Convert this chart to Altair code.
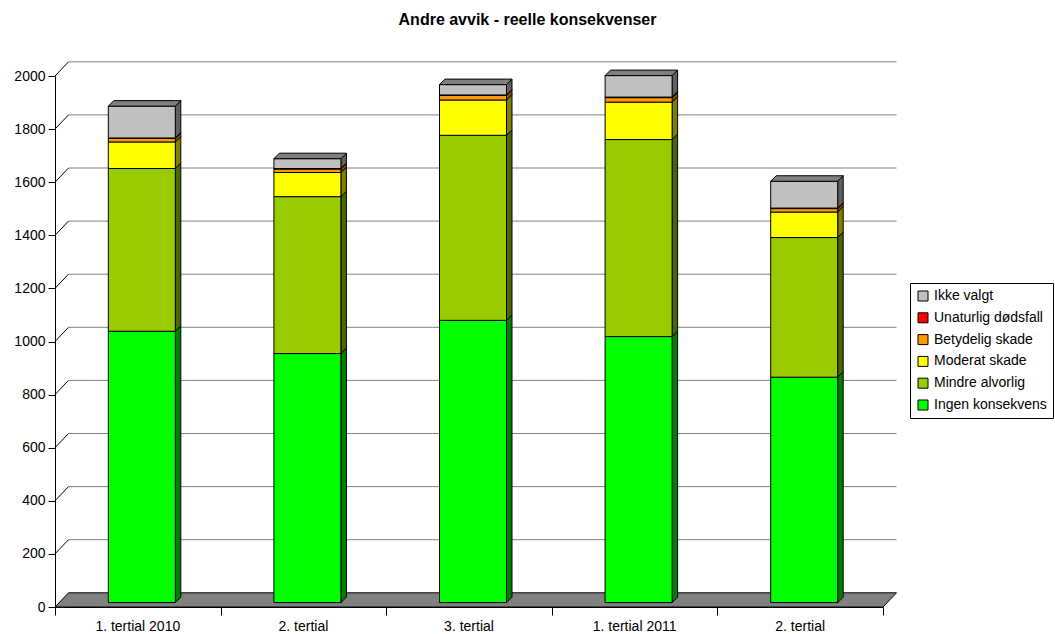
import altair as alt
import pandas as pd

# ---- data -----------------------------------------------------------------
categories = ["1. tertial 2010", "2. tertial", "3. tertial", "1. tertial 2011", "2. tertial"]
ingen_konsekvens = [1022, 938, 1063, 1002, 849]
mindre_alvorlig = [613, 591, 697, 742, 526]
moderat_skade = [100, 91, 133, 141, 96]
betydelig_skade = [13, 13, 17, 17, 13]
unaturlig_dodsfall = [2, 2, 2, 2, 2]
ikke_valgt = [120, 37, 39, 81, 101]

series_names = ["Ingen konsekvens", "Mindre alvorlig", "Moderat skade",
                "Betydelig skade", "Unaturlig dødsfall", "Ikke valgt"]
series_values = [ingen_konsekvens, mindre_alvorlig, moderat_skade,
                 betydelig_skade, unaturlig_dodsfall, ikke_valgt]
face_colors = ["#00FF00", "#99CC00", "#FFFF00", "#FF9900", "#FF0000", "#C0C0C0"]
side_colors = ["#008000", "#4C6600", "#808000", "#804C00", "#800000", "#606060"]
top_color = "#808080"
y_ticks = list(range(0, 2001, 200))
title_text = "Andre avvik - reelle konsekvenser"

# ---- geometry (plot size and pseudo-3D depth, in pixels) -------------------
W, H = 828, 531
N = len(categories)
YMAX = 2000
px_x = N / W          # data units per pixel, x
px_y = YMAX / H       # data units per pixel, y

WALL_DX, WALL_DY = 13.5 * px_x, 14.2 * px_y     # floor / back wall depth
BAR_SX, BAR_SY = 4.0 * px_x, 4.4 * px_y         # bar front face depth
BAR_W = 67 * px_x
BAR_DX, BAR_DY = 5.5 * px_x, 5.5 * px_y         # bar depth

FONT = "Liberation Sans"

# ---- tables ---------------------------------------------------------------
front_rows, side_rows, top_rows, label_rows = [], [], [], []
for i, cat in enumerate(categories):
    xl = i + 0.5 - BAR_W / 2 + BAR_SX
    xr = xl + BAR_W
    cum = 0
    for s, name in enumerate(series_names):
        v = series_values[s][i]
        y0, y1 = BAR_SY + cum, BAR_SY + cum + v
        front_rows.append(dict(series=name, xl=xl, xr=xr, y0=y0, y1=y1))
        key = f"{i}-{s}"
        side_rows.append(dict(key=key, c=side_colors[s], x=xr, lo=y0, hi=y1))
        side_rows.append(dict(key=key, c=side_colors[s], x=xr + BAR_DX,
                              lo=y0 + BAR_DY, hi=y1 + BAR_DY))
        cum += v
    t = BAR_SY + cum
    for x, lo, hi in [(xl, t, t), (xl + BAR_DX, t, t + BAR_DY),
                      (xr, t, t + BAR_DY), (xr + BAR_DX, t + BAR_DY, t + BAR_DY)]:
        top_rows.append(dict(key=str(i), x=x, lo=lo, hi=hi))
    label_rows.append(dict(cat=cat, x=i + 0.5))

front = pd.DataFrame(front_rows)
sides = pd.DataFrame(side_rows)
tops = pd.DataFrame(top_rows)
labels = pd.DataFrame(label_rows)

floor = pd.DataFrame(dict(x=[0, WALL_DX, N, N + WALL_DX],
                          lo=[0, 0, 0, WALL_DY],
                          hi=[0, WALL_DY, WALL_DY, WALL_DY]))
grid = pd.DataFrame(dict(v=y_ticks[1:]))
grid["yb"] = grid["v"] + WALL_DY
grid["x0"] = WALL_DX
grid["x1"] = N + WALL_DX
grid["xa"] = 0.0

# ---- scales / axes --------------------------------------------------------
xs = alt.Scale(domain=[0, N], nice=False, zero=False)
ys = alt.Scale(domain=[0, YMAX], nice=False, zero=False)
x_axis = alt.Axis(values=list(range(N + 1)), labels=False, title=None, grid=False,
                  tickSize=8, tickColor="black", domainColor="black", zindex=1)
y_axis = alt.Axis(values=y_ticks, format="d", title=None, grid=False, tickSize=7,
                  tickColor="black", domainColor="black", labelFont=FONT,
                  labelFontSize=14, labelColor="black", labelPadding=3, zindex=1)


def X(f):
    return alt.X(f"{f}:Q", scale=xs, axis=x_axis)


def Y(f):
    return alt.Y(f"{f}:Q", scale=ys, axis=y_axis)


# back-wall gridlines and the short diagonals linking them to the axis
grid_lines = alt.Chart(grid).mark_rule(color="#808080", strokeWidth=1).encode(
    x=X("x0"), x2="x1", y=Y("yb"))
diagonals = alt.Chart(grid).mark_rule(color="black", strokeWidth=1).encode(
    x=X("xa"), x2="x0", y=Y("v"), y2="yb")

floor_layer = alt.Chart(floor).mark_area(
    orient="vertical", fill="#808080", stroke="black", strokeWidth=1, opacity=1
).encode(x=X("x"), y=Y("lo"), y2="hi")

side_layer = alt.Chart(sides).mark_area(
    orient="vertical", stroke="black", strokeWidth=1, opacity=1
).encode(x=X("x"), y=Y("lo"), y2="hi",
         color=alt.Color("c:N", scale=None), detail="key:N")

legend_order = list(reversed(series_names))
front_layer = alt.Chart(front).mark_rect(stroke="black", strokeWidth=1).encode(
    x=X("xl"), x2="xr", y=Y("y0"), y2="y1",
    color=alt.Color(
        "series:N",
        scale=alt.Scale(domain=legend_order, range=list(reversed(face_colors))),
        legend=alt.Legend(
            title=None, orient="none", legendX=855, legendY=207,
            symbolType="square", symbolSize=100, symbolStrokeColor="black",
            symbolStrokeWidth=1, labelFont=FONT, labelFontSize=14,
            labelColor="black", strokeColor="black", fillColor="white",
            padding=6, rowPadding=7.8, labelOffset=4, labelLimit=300),
    ))

top_layer = alt.Chart(tops).mark_area(
    orient="vertical", fill=top_color, stroke="black", strokeWidth=1, opacity=1
).encode(x=X("x"), y=Y("lo"), y2="hi", detail="key:N")

cat_labels = alt.Chart(labels).mark_text(
    font=FONT, fontSize=14, color="black", baseline="middle", align="center"
).encode(x=X("x"), y=alt.value(H + 20), text="cat:N")

title_layer = alt.Chart(pd.DataFrame(dict(t=[title_text]))).mark_text(
    font=FONT, fontSize=16, fontWeight="bold", color="black",
    baseline="middle", align="center"
).encode(x=alt.value(1055 / 2 - 55), y=alt.value(20 - 76), text="t:N")

chart = alt.layer(
    grid_lines, diagonals, floor_layer, side_layer, front_layer, top_layer,
    cat_labels, title_layer
).properties(
    width=W, height=H,
    background="white",
    autosize=alt.AutoSizeParams(type="none"),
    padding={"left": 55, "top": 76, "right": 172, "bottom": 27},
).configure_view(stroke=None, strokeWidth=0)

chart.save("out.html", embed_options={"renderer": "svg", "actions": False})
